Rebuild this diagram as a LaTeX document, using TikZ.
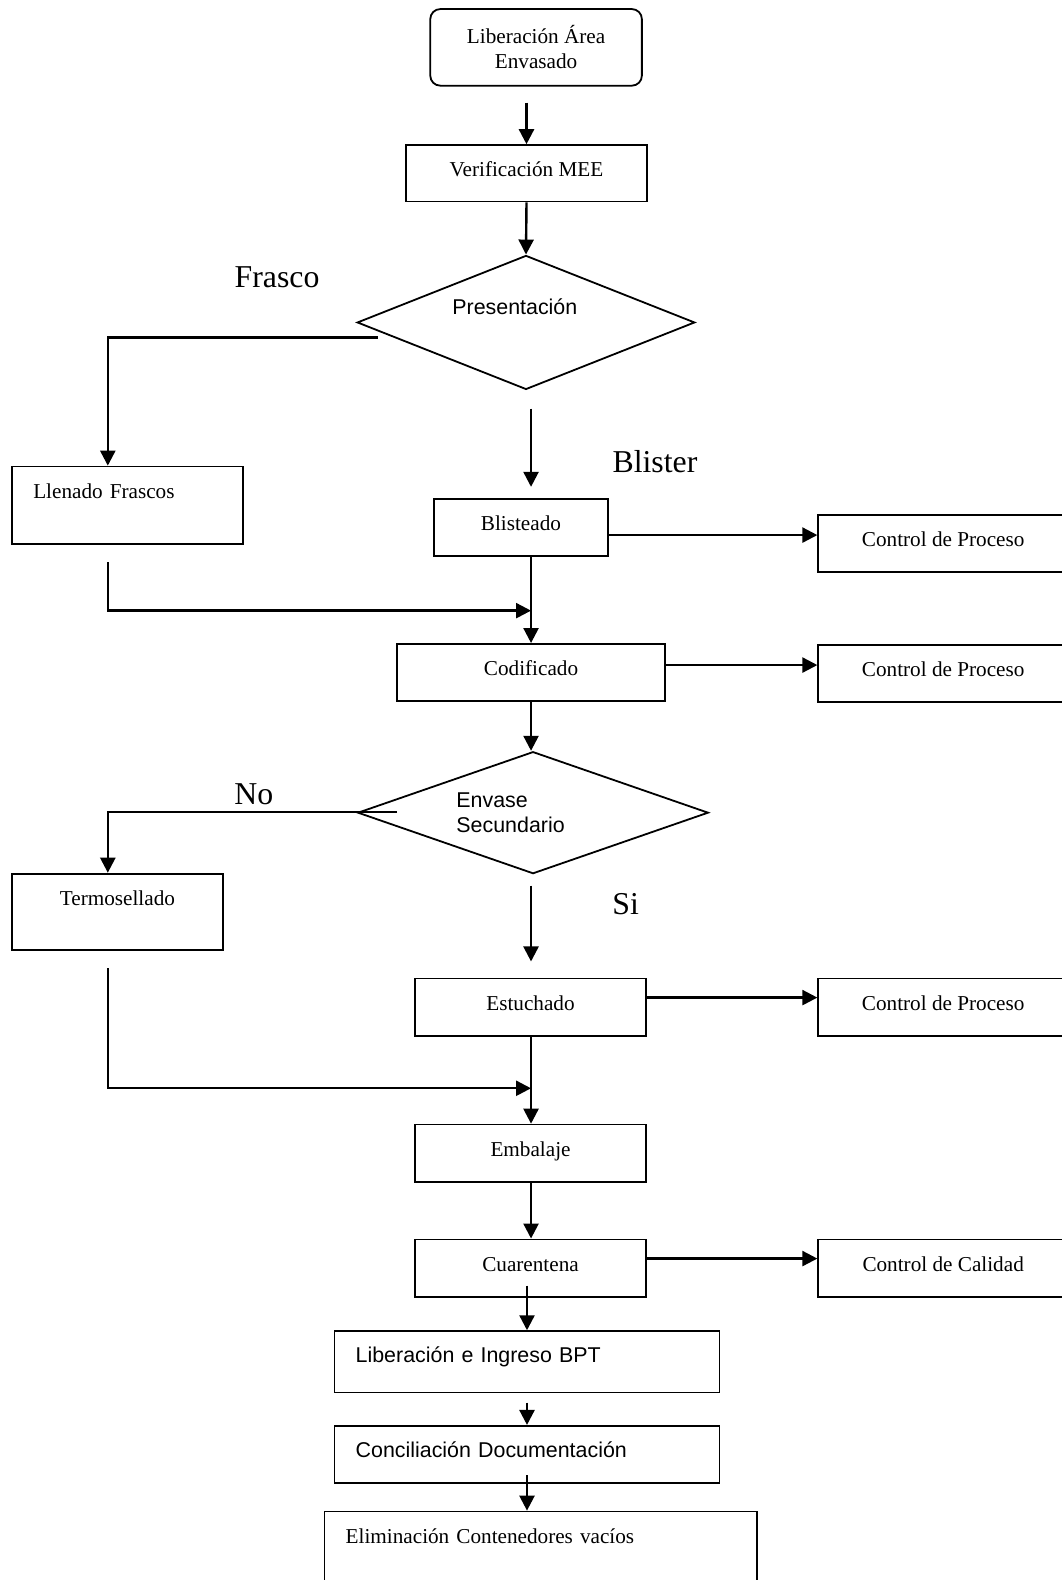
\documentclass[tikz,border=0pt]{standalone}
\usepackage{fontspec}
\setmainfont{Liberation Serif}
\setsansfont{Liberation Sans}
\usetikzlibrary{arrows.meta,positioning,shapes.geometric,calc}

\begin{document}
\begin{tikzpicture}[x=0.5038pt, y=-0.5038pt,
  proc/.style={draw, line width=0.9pt, inner ysep=0pt, text height=15.9pt, font=\fontsize{10.6}{12.6}\selectfont},
  ctrl/.style={proc, minimum width=124.9pt, text depth=12.8pt},
  decision/.style={draw, diamond, aspect=2.5, line width=0.9pt, inner sep=0pt, align=left, font=\sffamily\fontsize{10.7}{12.6}\selectfont},
  branch/.style={font=\fontsize{15.9}{18}\selectfont},
  arr/.style={-{Triangle[length=7.5pt,width=7.5pt]}, line width=1.2pt}]
  \useasboundingbox (0,0) rectangle (1053,1568);

  %% Main line
  \node[draw, rounded corners=5pt, line width=0.9pt, minimum width=105.8pt, minimum height=38.3pt, align=center, font=\fontsize{10.6}{12.6}\selectfont] (start) at (532,47) {Liberación Área\\Envasado};
  \node[proc, minimum width=120.4pt, text depth=12.3pt] (verif) at (522.5,172) {Verificación MEE};
  \node[decision, minimum width=168.8pt, minimum height=67pt, text width=73.6pt, text height=8pt, text depth=16pt] (pres) at (522,320) {Presentación};
  \node[proc, text width=94.2pt, inner xsep=10.6pt, align=left, text depth=22.9pt] (llenado) at (126.5,501.5) {Llenado Frascos};
  \node[proc, minimum width=86.7pt, text depth=12.8pt] (blist) at (517,523.5) {Blisteado};
  \node[ctrl] (ctrlA) at (936,539.5) {Control de Proceso};
  \node[proc, minimum width=134pt, text depth=12.8pt] (codif) at (527,667.5) {Codificado};
  \node[ctrl] (ctrlB) at (936,668.5) {Control de Proceso};
  \node[decision, minimum width=175.3pt, minimum height=61pt, text width=76.6pt] (envase) at (529,806.5) {Envase\\Secundario};
  \node[proc, minimum width=105.3pt, text depth=22.4pt] (termo) at (116.5,905) {Termosellado};
  \node[proc, minimum width=115.4pt, text depth=12.8pt] (estuch) at (526.5,999.5) {Estuchado};
  \node[ctrl] (ctrlC) at (936,999.5) {Control de Proceso};
  \node[proc, minimum width=115.4pt, text depth=12.8pt] (embal) at (526.5,1144.5) {Embalaje};
  \node[proc, minimum width=115.4pt, text depth=12.8pt] (cuar) at (526.5,1258.5) {Cuarentena};
  \node[ctrl] (ctrlQ) at (936,1258.5) {Control de Calidad};
  \node[proc, text width=171.3pt, inner xsep=10.6pt, align=left, text depth=14.8pt, font=\sffamily\fontsize{10.7}{12.6}\selectfont] (lib) at (523,1351.5) {Liberación e Ingreso BPT};
  \node[proc, text width=171.3pt, inner xsep=10.6pt, align=left, text depth=12.8pt, font=\sffamily\fontsize{10.7}{12.6}\selectfont] (conc) at (523,1443.5) {Conciliación Documentación};
  \node[proc, text width=194.9pt, inner xsep=10.6pt, align=left, text depth=29.4pt] (elim) at (536.5,1545) {Eliminación Contenedores vacíos};

  %% Branch labels
  \node[branch] (frasco) at (275,275) {Frasco};
  \node[branch] (blister) at (650,458) {Blister};
  \node[branch] (no) at (252,788) {No};
  \node[branch] (si) at (621,897) {Si};

  \coordinate (frOut) at (375,335);
  \coordinate (mergeA) at (527,606);
  \coordinate (noOut) at (394,806);
  \coordinate (mergeB) at (527,1080);

  %% Connectors
  \draw[arr] ($(start.south -| verif)+(0,16)$) -- (verif.north);
  \draw[arr] (verif.south) -- (pres.north);
  \draw[arr] (frOut) -| ($(llenado.north)+(-19.5,0)$);
  \draw[arr] ($(pres.south -| codif)+(0,18)$) -- ($(blist.north -| codif)+(0,-11)$);
  \draw[arr] ($(blist.east)+(0,7.5)$) coordinate (bA) -- (bA -| ctrlA.west);
  \draw[arr] (blist.south -| codif) -- (codif.north);
  \draw[arr] ($(llenado.south)+(-19.5,17)$) |- (mergeA);
  \draw[arr] ($(codif.east)+(0,-7.5)$) coordinate (cB) -- (cB -| ctrlB.west);
  \draw[arr] (codif.south) -- (codif.south |- envase.north);
  \draw[arr] (noOut) -| ($(termo.north)+(-9.5,0)$);
  \draw[arr] ($(envase.south -| codif)+(0,11)$) -- ($(estuch.north -| codif)+(0,-16)$);
  \draw[arr] ($(estuch.east)+(0,-9.5)$) coordinate (eC) -- (eC -| ctrlC.west);
  \draw[arr] (estuch.south -| codif) -- (embal.north -| codif);
  \draw[arr] ($(termo.south)+(-9.5,17)$) |- (mergeB);
  \draw[arr] (embal.south -| codif) -- (cuar.north -| codif);
  \draw[arr] ($(cuar.east)+(0,-9.5)$) coordinate (qC) -- (qC -| ctrlQ.west);
  \draw[arr] ($(cuar.south -| lib.north)+(0,-12)$) -- (lib.north);
  \draw[arr] ($(lib.south)+(0,9)$) -- (conc.north);
  \draw[arr] ($(conc.south)+(0,-9)$) -- (elim.north -| conc.south);
\end{tikzpicture}
\end{document}
